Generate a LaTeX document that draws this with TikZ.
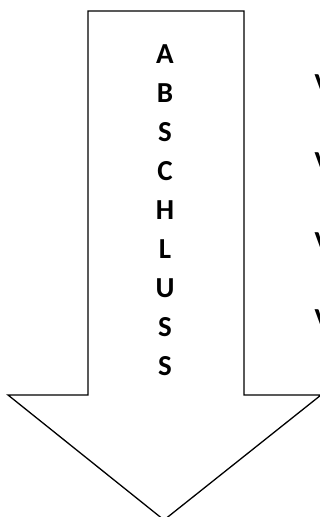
\documentclass[tikz,border=0pt]{standalone}
\usepackage{fontspec}
\setmainfont{Carlito}
\begin{document}
\begin{tikzpicture}[x=1pt,y=-1pt,
  arrowshape/.style={draw=black,line width=1.3pt,fill=white,line join=miter},
  letter/.style={inner sep=0pt,anchor=base,font=\fontsize{29}{34}\selectfont\bfseries},
  sideletter/.style={inner sep=0pt,anchor=base west,font=\fontsize{29}{34}\selectfont\bfseries}]
\useasboundingbox (0,0) rectangle (320,517);
\draw[arrowshape] (88,11) -- (244,11) -- (244,395) -- (321,395) -- (164,520) -- (8,395) -- (88,395) -- cycle;
\foreach \l [count=\i] in {A,B,S,C,H,L,U,S,S}{
  \node[letter] (l\i) at (165,{63+39*(\i-1)}) {\l};
}
\node[sideletter] (v1) at (314.5,93) {V};
\node[sideletter] (v2) at (314.5,171) {V};
\node[sideletter] (v3) at (314.5,251) {V};
\node[sideletter] (v4) at (314.5,328) {V};
\end{tikzpicture}
\end{document}
